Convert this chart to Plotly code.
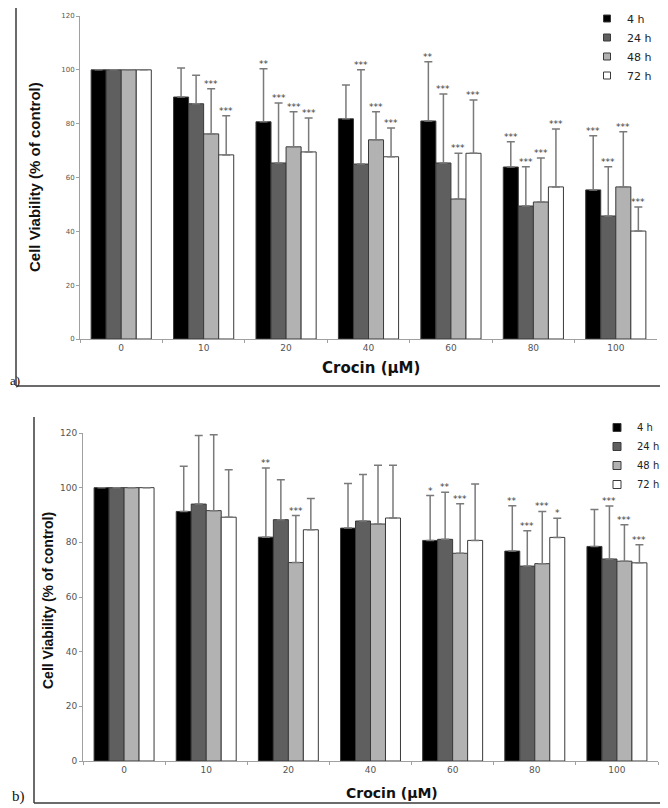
import plotly.graph_objects as go

# The page adds an 8px body margin, so the figure is 8px smaller than the window
# and page coordinates are converted with an 8px offset.
PAGE_OFF = 8
W, H = 660, 800

conc = ["0", "10", "20", "40", "60", "80", "100"]
series = ["4 h", "24 h", "48 h", "72 h"]
colors = ["#000000", "#5f5f5f", "#b2b2b2", "#ffffff"]

# Panel a) means and (upper) SD
a_mean = [
    [100, 89.9, 80.7, 81.8, 81.0, 63.9, 55.4],
    [100, 87.4, 65.4, 65.0, 65.4, 49.4, 45.7],
    [100, 76.2, 71.4, 74.0, 52.0, 50.9, 56.5],
    [100, 68.4, 69.5, 67.7, 69.0, 56.5, 40.1],
]
a_sd = [
    [0, 10.8, 19.7, 12.6, 22.0, 9.4, 20.1],
    [0, 10.6, 22.3, 35.0, 25.6, 14.6, 18.3],
    [0, 16.8, 13.0, 10.4, 17.0, 16.3, 20.5],
    [0, 14.5, 12.6, 10.7, 19.8, 21.5, 8.9],
]
a_sig = [
    ["", "", "**", "", "**", "***", "***"],
    ["", "", "***", "***", "***", "***", "***"],
    ["", "***", "***", "***", "***", "***", "***"],
    ["", "***", "***", "***", "***", "***", "***"],
]

# Panel b) means and (upper) SD
b_mean = [
    [100, 91.3, 81.9, 85.2, 80.7, 76.8, 78.5],
    [100, 94.0, 88.3, 87.8, 81.1, 71.3, 73.9],
    [100, 91.6, 72.6, 86.7, 76.0, 72.2, 73.1],
    [100, 89.2, 84.6, 88.9, 80.7, 81.8, 72.5],
]
b_sd = [
    [0, 16.5, 25.3, 16.3, 16.4, 16.6, 13.5],
    [0, 25.1, 14.6, 17.0, 17.2, 12.9, 19.4],
    [0, 27.8, 17.2, 21.5, 18.1, 19.1, 13.3],
    [0, 17.4, 11.4, 19.3, 20.6, 7.0, 6.6],
]
b_sig = [
    ["", "", "**", "", "*", "**", ""],
    ["", "", "", "", "**", "***", "***"],
    ["", "", "***", "", "***", "***", "***"],
    ["", "", "", "", "", "*", "***"],
]

yticks = [0, 20, 40, 60, 80, 100, 120]

BARGAP = 0.27

def px(x):
    return (x - PAGE_OFF) / W

def py(y):
    return 1 - (y - PAGE_OFF) / H

panels = [
    dict(x="x", y="y", legend="legend", mean=a_mean, sd=a_sd, sig=a_sig,
         xdom=[px(80), px(657)], ydom=[py(339), py(16)], msize=7),
    dict(x="x2", y="y2", legend="legend2", mean=b_mean, sd=b_sd, sig=b_sig,
         xdom=[px(83), px(658)], ydom=[py(761), py(433)], msize=8),
]

fig = go.Figure()
annotations = []
for p in panels:
    plot_w = (p["xdom"][1] - p["xdom"][0]) * W
    bar_w = plot_w / len(conc) * (1 - BARGAP) / len(series)
    for i, s in enumerate(series):
        fig.add_trace(go.Bar(
            x=conc, y=p["mean"][i], name=s, showlegend=False,
            xaxis=p["x"], yaxis=p["y"],
            marker=dict(color=colors[i], line=dict(color="#3a3a3a", width=1)),
            error_y=dict(type="data", array=p["sd"][i],
                         arrayminus=[0] * len(conc), symmetric=False,
                         color="#7a7a7a", thickness=1.5, width=4),
        ))
        for j, c in enumerate(conc):
            if p["sig"][i][j]:
                annotations.append(dict(
                    x=j, y=p["mean"][i][j] + p["sd"][i][j],
                    xref=p["x"], yref=p["y"], text=p["sig"][i][j],
                    showarrow=False, xanchor="center", yanchor="bottom",
                    yshift=-2, xshift=(i - 1.5) * bar_w,
                    font=dict(family="DejaVu Sans", size=9, color="#3c3c3c"),
                ))
    # legend-only entries (small square keys like the original)
    for i, s in enumerate(series):
        fig.add_trace(go.Scatter(
            x=[None], y=[None], mode="markers", name=s,
            xaxis=p["x"], yaxis=p["y"], legend=p["legend"],
            marker=dict(symbol="square", size=p["msize"], color=colors[i],
                        line=dict(color="#3a3a3a", width=1)),
        ))

axis_common = dict(showline=True, linecolor="#a0a0a0", linewidth=1,
                   ticks="outside", tickcolor="#a0a0a0", ticklen=3,
                   showgrid=False, zeroline=False, automargin=False)

fig.update_layout(
    width=W, height=H,
    margin=dict(l=0, r=0, t=0, b=0, autoexpand=False),
    paper_bgcolor="white", plot_bgcolor="white",
    barmode="group", bargap=BARGAP, bargroupgap=0,
    xaxis=dict(domain=panels[0]["xdom"], anchor="y", type="category",
               categoryorder="array", categoryarray=conc,
               range=[-0.5, len(conc) - 0.5], tickson="boundaries",
               tickangle=0,
               tickfont=dict(family="DejaVu Sans", size=9, color="#555555"),
               **axis_common),
    yaxis=dict(domain=panels[0]["ydom"], anchor="x", range=[0, 120],
               tickvals=yticks,
               tickfont=dict(family="DejaVu Sans", size=7, color="#555555"),
               **axis_common),
    xaxis2=dict(domain=panels[1]["xdom"], anchor="y2", type="category",
                categoryorder="array", categoryarray=conc,
                range=[-0.5, len(conc) - 0.5], tickson="boundaries",
                tickangle=0,
                tickfont=dict(family="DejaVu Sans", size=9, color="#555555"),
                **axis_common),
    yaxis2=dict(domain=panels[1]["ydom"], anchor="x2", range=[0, 120],
                tickvals=yticks,
                tickfont=dict(family="DejaVu Sans", size=9, color="#555555"),
                **axis_common),
    legend=dict(x=px(587), y=py(4), xanchor="left", yanchor="top",
                font=dict(family="DejaVu Sans", size=11, color="#222222"),
                bgcolor="rgba(0,0,0,0)", itemwidth=30),
    legend2=dict(x=px(597), y=py(413), xanchor="left", yanchor="top",
                 font=dict(family="DejaVu Sans", size=10, color="#222222"),
                 bgcolor="rgba(0,0,0,0)", itemwidth=30),
)

# Axis titles and panel labels
annotations += [
    dict(text="<b>Cell Viability (% of control)</b>", x=px(35), y=py(177),
         xref="paper", yref="paper", textangle=-90, showarrow=False,
         xanchor="center", yanchor="middle",
         font=dict(family="Liberation Sans", size=15, color="#111111")),
    dict(text="<b>Crocin (μM)</b>", x=px(371), y=py(368),
         xref="paper", yref="paper", showarrow=False,
         xanchor="center", yanchor="middle",
         font=dict(family="DejaVu Sans", size=15, color="#111111")),
    dict(text="<b>Cell Viability (% of control)</b>", x=px(48), y=py(601),
         xref="paper", yref="paper", textangle=-90, showarrow=False,
         xanchor="center", yanchor="middle",
         font=dict(family="Liberation Sans", size=14, color="#111111")),
    dict(text="<b>Crocin (μM)</b>", x=px(392), y=py(793),
         xref="paper", yref="paper", showarrow=False,
         xanchor="center", yanchor="middle",
         font=dict(family="DejaVu Sans", size=14, color="#111111")),
    dict(text="a)", x=px(8), y=py(380), xref="paper", yref="paper",
         showarrow=False, xanchor="left", yanchor="middle",
         font=dict(family="Liberation Serif", size=13, color="#111111")),
    dict(text="b)", x=px(10), y=py(796), xref="paper", yref="paper",
         showarrow=False, xanchor="left", yanchor="middle",
         font=dict(family="Liberation Serif", size=15, color="#111111")),
]
fig.update_layout(annotations=annotations)

# Panel frames (left, bottom, right sides)
frame = dict(color="#3a3a3a", width=1.5)
shapes = []
for (l, t, r, b) in [(16, 8, 663, 386), (34, 417, 667, 803)]:
    shapes.append(dict(type="line", xref="paper", yref="paper",
                       x0=px(l), x1=px(l), y0=py(t), y1=py(b), line=frame))
    shapes.append(dict(type="line", xref="paper", yref="paper",
                       x0=px(l), x1=px(r), y0=py(b), y1=py(b), line=frame))
    shapes.append(dict(type="line", xref="paper", yref="paper",
                       x0=px(r), x1=px(r), y0=py(t), y1=py(b), line=frame))
fig.update_layout(shapes=shapes)

fig.write_html("out.html")
